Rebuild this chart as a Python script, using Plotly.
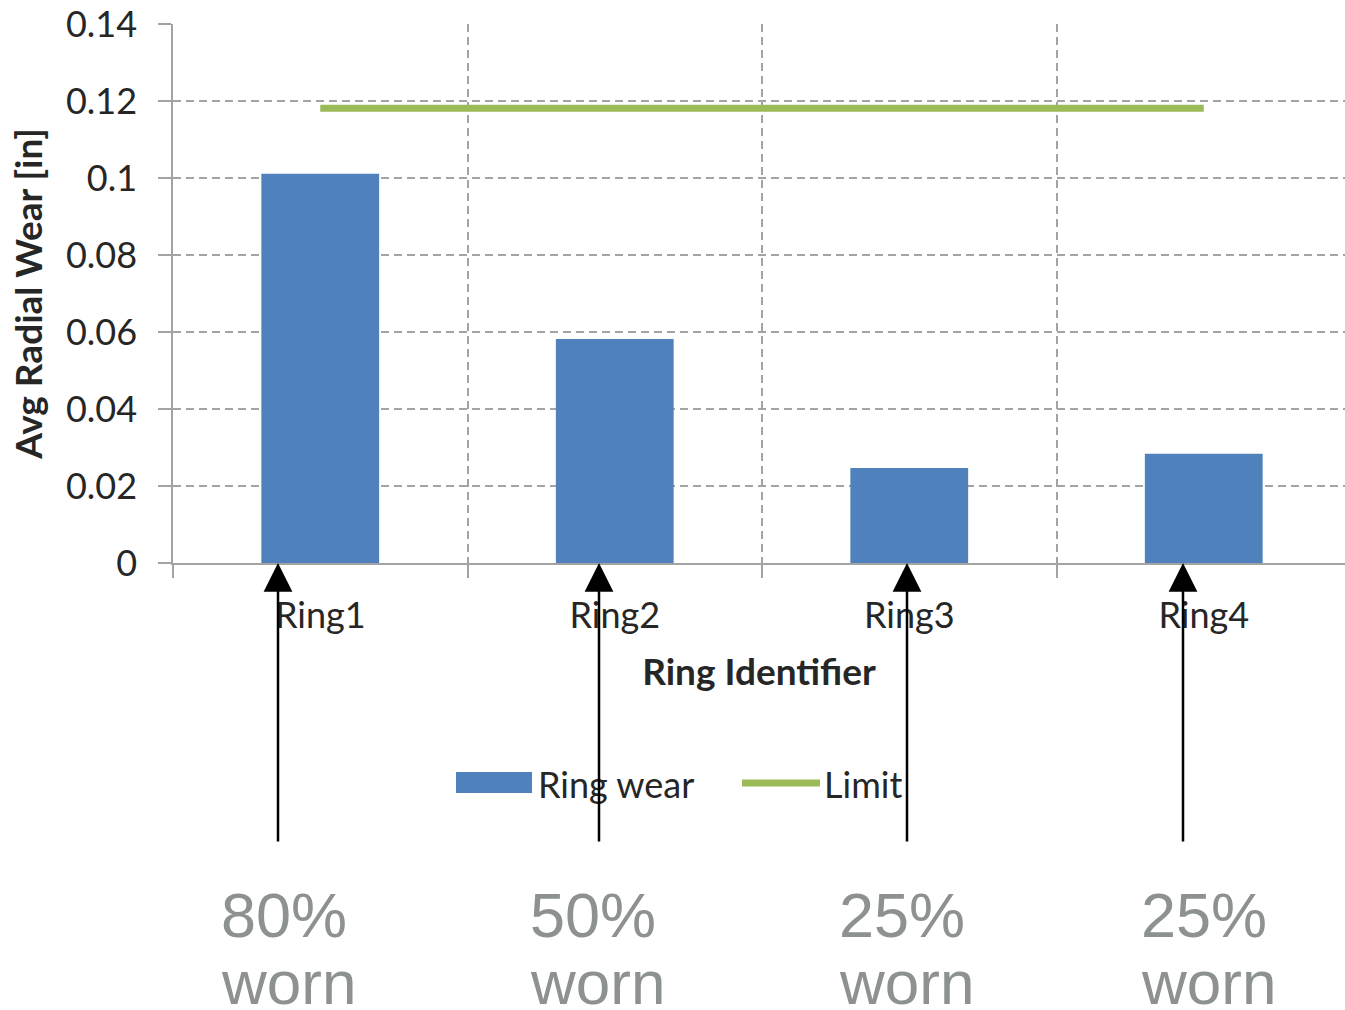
import plotly.graph_objects as go

# ---- data -------------------------------------------------------------
rings = ["Ring1", "Ring2", "Ring3", "Ring4"]
ring_wear = [0.1011, 0.0582, 0.0247, 0.0284]          # avg radial wear [in]
wear_limit = [0.1181, 0.1181, 0.1181, 0.1181]         # allowed wear [in]
worn_pct = ["80%", "50%", "25%", "25%"]
y_ticks = [0, 0.02, 0.04, 0.06, 0.08, 0.1, 0.12, 0.14]

# ---- page geometry (pixels) ------------------------------------------
W, H = 1345, 1010
ML, MR, MT, MB = 173, 0, 24, 447
PW, PH = W - ML - MR, H - MT - MB
BAND = 294.5                      # pixel width of one category band


def fx(x):
    """pixel x -> paper x"""
    return (x - ML) / PW


def fy(y):
    """pixel y -> paper y"""
    return (H - MB - y) / PH


BLUE = "#4F81BD"
GREEN = "#9BBB59"
GRID = "#A3A3A3"
TXT = "#262626"
NOTE = "#8D9191"
FONT = "Lato"
TICK_SIZE = 36
TITLE_SIZE = 37

fig = go.Figure()
fig.add_trace(go.Bar(
    x=rings, y=ring_wear, name="Ring wear", width=0.4,
    marker=dict(color=BLUE, line=dict(width=0)), showlegend=False,
))
fig.add_trace(go.Scatter(
    x=rings, y=wear_limit, name="Limit", mode="lines",
    line=dict(color=GREEN, width=7), showlegend=False,
))

fig.update_layout(
    width=W, height=H,
    margin=dict(l=ML, r=MR, t=MT, b=MB, pad=0),
    paper_bgcolor="white", plot_bgcolor="white",
    font=dict(family=FONT, color=TXT),
    xaxis=dict(
        type="category", range=[-0.5, -0.5 + PW / BAND],
        tickson="boundaries", ticks="outside", ticklen=13, tickwidth=1.5,
        tickcolor=GRID, showline=True, linecolor=GRID, linewidth=1.5,
        ticklabelstandoff=20,
        showgrid=True, gridcolor=GRID, gridwidth=1.5, griddash="8px,5px",
        tickfont=dict(family=FONT, size=TICK_SIZE, color=TXT),
        title=dict(text="<b>Ring Identifier</b>", standoff=24,
                   font=dict(family=FONT, size=TITLE_SIZE, color=TXT)),
    ),
    yaxis=dict(
        range=[0, 0.14], tickvals=y_ticks, ticktext=[f"{v:g}" for v in y_ticks],
        ticks="outside", ticklen=13, tickwidth=1.5, tickcolor=GRID,
        ticklabelstandoff=14,
        showline=True, linecolor=GRID, linewidth=1.5, zeroline=False,
        showgrid=True, gridcolor=GRID, gridwidth=1.5, griddash="8px,5px",
        tickfont=dict(family=FONT, size=TICK_SIZE, color=TXT),
        title=dict(text="<b>Avg Radial Wear [in]</b>", standoff=12,
                   font=dict(family=FONT, size=TITLE_SIZE, color=TXT)),
    ),
)

# ---- legend (drawn by hand so the keys have the wide swatches) -------
shapes = [
    dict(type="rect", xref="paper", yref="paper",
         x0=fx(456), x1=fx(532), y0=fy(793), y1=fy(772),
         fillcolor=BLUE, line=dict(width=0)),
    dict(type="line", xref="paper", yref="paper",
         x0=fx(742), x1=fx(820), y0=fy(783), y1=fy(783),
         line=dict(color=GREEN, width=7)),
]
annotations = [
    dict(text="Ring wear", xref="paper", yref="paper", x=fx(536), y=fy(784),
         xanchor="left", yanchor="middle", showarrow=False,
         font=dict(family=FONT, size=TICK_SIZE, color=TXT)),
    dict(text="Limit", xref="paper", yref="paper", x=fx(822), y=fy(784),
         xanchor="left", yanchor="middle", showarrow=False,
         font=dict(family=FONT, size=TICK_SIZE, color=TXT)),
]

# ---- arrows and wear notes under each ring ----------------------------
arrow_px = [278, 599, 907, 1183]
note_left_px = [219, 528, 837, 1139]
for pct, ax_px, nx in zip(worn_pct, arrow_px, note_left_px):
    annotations.append(dict(
        text="", xref="paper", yref="paper", x=fx(ax_px), y=fy(563),
        showarrow=True, ax=0, ay=280, arrowhead=2, arrowsize=2.3,
        arrowwidth=2.5, arrowcolor="black", standoff=0,
    ))
    annotations.append(dict(
        text=pct, xref="paper", yref="paper", x=fx(nx), y=fy(915),
        xanchor="left", yanchor="middle", showarrow=False,
        font=dict(family="Liberation Sans", size=63, color=NOTE),
    ))
    annotations.append(dict(
        text="worn", xref="paper", yref="paper", x=fx(nx), y=fy(982),
        xanchor="left", yanchor="middle", showarrow=False,
        font=dict(family="Liberation Sans", size=62, color=NOTE),
    ))

fig.update_layout(shapes=shapes, annotations=annotations)
fig.write_html("out.html")
